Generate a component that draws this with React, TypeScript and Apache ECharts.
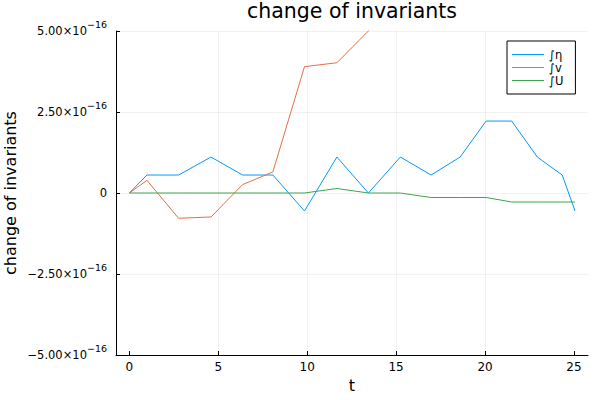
import React, { useEffect, useRef } from "react";
import * as echarts from "echarts";

// time points
const t = [0, 0.99, 2.77, 4.59, 6.37, 8.07, 9.85, 11.67, 13.44, 15.24, 16.97, 18.6, 20.06, 21.5, 22.94, 24.34, 25.06];
// ∫η
const intEta = [0, 5.55e-17, 5.55e-17, 1.11e-16, 5.55e-17, 5.55e-17, -5.55e-17, 1.11e-16, 0, 1.11e-16, 5.55e-17, 1.11e-16, 2.22e-16, 2.22e-16, 1.11e-16, 5.55e-17, -5.55e-17];
// ∫v (values after t≈13.4 lie above the visible range)
const intV = [0, 3.9e-17, -7.8e-17, -7.4e-17, 2.6e-17, 6.5e-17, 3.9e-16, 4.02e-16, 5.0e-16, 6.1e-16, 7.3e-16, 8.0e-16, 9.2e-16, 1.05e-15, 1.13e-15, 1.26e-15, 1.34e-15];
// ∫U
const intU = [0, 0, 0, 0, 0, 0, 0, 1.39e-17, 0, 0, -1.39e-17, -1.39e-17, -1.39e-17, -2.78e-17, -2.78e-17, -2.78e-17, -2.78e-17];

const xTickValues = [0, 5, 10, 15, 20, 25];
const seriesNames = ["∫η", "∫v", "∫U"];
const colors = ["#009AFA", "#E36F47", "#3EA44E"];

const FONT = "DejaVu Sans";

function fmtY(v: number): string {
  if (Math.abs(v) < 1e-20) return "{m|0}";
  const m = v / 1e-16;
  const s = Math.abs(m).toFixed(2);
  const sign = m < 0 ? "\u2212" : "";
  return `{m|${sign}${s}×10}{s|\u221216}`;
}

export default function App() {
  const ref = useRef<HTMLDivElement>(null);
  useEffect(() => {
    if (!ref.current) return;
    const chart = echarts.init(ref.current, null, { renderer: "svg" });
    const mk = (vals: number[]) => t.map((x, i) => [x, vals[i]]);
    const datasets = [intEta, intV, intU];
    chart.setOption({
      animation: false,
      backgroundColor: "#ffffff",
      title: {
        text: "change of invariants",
        left: 352,
        textAlign: "center",
        top: 0,
        padding: 0,
        textStyle: { fontFamily: FONT, fontSize: 20.5, fontWeight: "normal", color: "#000" },
      },
      legend: {
        orient: "vertical",
        left: 507,
        top: 41,
        padding: [7, 12, 7, 5],
        itemGap: 0,
        itemWidth: 32,
        itemHeight: 1,
        icon: "rect",
        borderColor: "#000",
        borderWidth: 1,
        backgroundColor: "#fff",
        borderRadius: 0,
        data: seriesNames,
        textStyle: { fontFamily: FONT, fontSize: 11.5, color: "#000", lineHeight: 13 },
      },
      grid: { left: 116, right: 12, top: 31, bottom: 45, containLabel: false, outerBoundsMode: "none" },
      xAxis: {
        type: "value",
        min: -0.75,
        max: 25.79,
        name: "t",
        nameLocation: "middle",
        nameGap: 22,
        nameMoveOverlap: false,
        nameTextStyle: { fontFamily: FONT, fontSize: 16, color: "#000" },
        axisLine: { show: true, onZero: false, lineStyle: { color: "#000", width: 1 } },
        axisTick: { show: true, inside: true, length: 4, lineStyle: { color: "#000" }, customValues: xTickValues },
        axisLabel: {
          fontFamily: FONT,
          fontSize: 12,
          color: "#000",
          margin: 6,
          customValues: xTickValues,
          formatter: (v: number) => (Math.abs(v - Math.round(v / 5) * 5) < 1e-6 ? String(Math.round(v)) : ""),
        },
        splitLine: { show: true, showMinLine: false, showMaxLine: false, lineStyle: { color: "rgba(0,0,0,0.1)", width: 0.5 } },
      },
      yAxis: {
        type: "value",
        min: -5e-16,
        max: 5e-16,
        interval: 2.5e-16,
        name: "change of invariants",
        nameLocation: "middle",
        nameGap: 98,
        nameMoveOverlap: false,
        nameRotate: 90,
        nameTextStyle: { fontFamily: FONT, fontSize: 16, color: "#000" },
        axisLine: { show: true, onZero: false, lineStyle: { color: "#000", width: 1 } },
        axisTick: { show: true, inside: true, length: 4, lineStyle: { color: "#000" } },
        axisLabel: {
          margin: 9,
          formatter: fmtY,
          rich: {
            m: { fontFamily: FONT, fontSize: 11.5, color: "#000", lineHeight: 24 },
            s: { fontFamily: FONT, fontSize: 9.5, color: "#000", lineHeight: 9, verticalAlign: "top" },
          },
        },
        splitLine: { show: true, lineStyle: { color: "rgba(0,0,0,0.1)", width: 0.5 } },
      },
      series: datasets.map((vals, i) => ({
        name: seriesNames[i],
        type: "line",
        data: mk(vals),
        symbol: "none",
        showSymbol: false,
        clip: true,
        color: colors[i],
        lineStyle: { color: colors[i], width: 1 },
      })),
    });
    return () => chart.dispose();
  }, []);
  return <div ref={ref} style={{ width: 600, height: 400, position: "absolute", left: 0, top: 0 }} />;
}
